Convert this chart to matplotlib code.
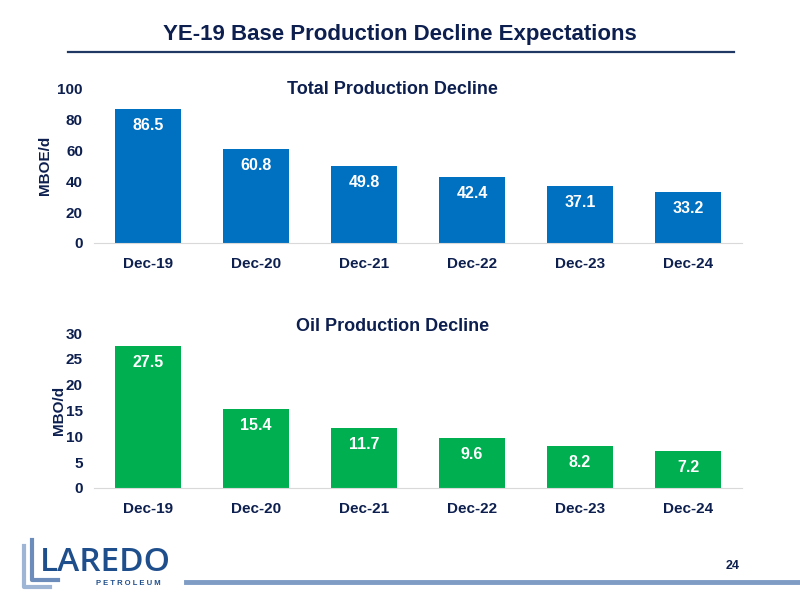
import matplotlib
matplotlib.use("Agg")
import matplotlib.pyplot as plt
from matplotlib.lines import Line2D
from matplotlib.transforms import offset_copy

plt.rcParams['font.family'] = ['Liberation Sans', 'DejaVu Sans']
plt.rcParams['font.weight'] = 'bold'

NAVY = '#0d1f4f'
BLUE = '#0070c0'
GREEN = '#00b050'

periods = ['Dec-19', 'Dec-20', 'Dec-21', 'Dec-22', 'Dec-23', 'Dec-24']
total_mboe = [86.5, 60.8, 49.8, 42.4, 37.1, 33.2]
oil_mbo = [27.5, 15.4, 11.7, 9.6, 8.2, 7.2]


def draw_panel(fig, ax, values, color, title, ylabel, ymax, step, title_dy, ylab_pad):
    x = range(len(periods))
    ax.bar(x, values, width=0.62, color=color, zorder=2)
    # value labels sit ~9px under the top of each bar
    lab_tr = offset_copy(ax.transData, fig=fig, x=0, y=-9, units='dots')
    for i, v in enumerate(values):
        ax.text(i, v, f"{v:.1f}", ha='center', va='top', transform=lab_tr,
                color='white', fontsize=11.5, fontweight='bold', zorder=3)
    ax.set_xlim(-0.5, len(periods) - 0.5)
    ax.set_ylim(0, ymax)
    ax.set_yticks(range(0, ymax + 1, step))
    ax.set_xticks(list(x))
    ax.set_xticklabels(periods)
    for s in ['top', 'right', 'left']:
        ax.spines[s].set_visible(False)
    ax.spines['bottom'].set_color('#d9d9d9')
    ax.tick_params(axis='both', length=0, labelsize=11, colors=NAVY)
    ax.tick_params(axis='x', pad=10)
    ax.tick_params(axis='y', pad=8)
    ax.set_ylabel(ylabel, color=NAVY, fontsize=11, fontweight='bold', labelpad=ylab_pad)
    t_tr = offset_copy(ax.transAxes, fig=fig, x=0, y=title_dy, units='dots')
    ax.text(0.46, 1.0, title, ha='center', va='center', transform=t_tr,
            color=NAVY, fontsize=13, fontweight='bold')


fig = plt.figure(figsize=(8, 6), dpi=100)

ax1 = fig.add_axes([0.1175, 0.595, 0.81, 0.258])
draw_panel(fig, ax1, total_mboe, BLUE, 'Total Production Decline', 'MBOE/d', 100, 20, -1, 4)

ax2 = fig.add_axes([0.1175, 0.1867, 0.81, 0.258])
draw_panel(fig, ax2, oil_mbo, GREEN, 'Oil Production Decline', 'MBO/d', 30, 5, 7, 0)

# slide header
fig.text(0.5, 0.942, 'YE-19 Base Production Decline Expectations', ha='center', va='center',
         color=NAVY, fontsize=16, fontweight='bold')
fig.add_artist(Line2D([0.085, 0.917], [0.913, 0.913], color='#1f3864', lw=1.6))

# footer: logo, page number, rule
fig.text(0.05, 0.063, 'LAREDO', ha='left', va='center', color='#1f4e8c',
         fontsize=24, fontweight='semibold', family=['Open Sans', 'DejaVu Sans'])
fig.text(0.12, 0.027, 'P E T R O L E U M', ha='left', va='center', color='#1f4e8c',
         fontsize=5.5, fontweight='bold')
fig.add_artist(Line2D([0.03, 0.03, 0.062], [0.09, 0.022, 0.022], color='#9fb5d6', lw=3))
fig.add_artist(Line2D([0.04, 0.04, 0.072], [0.10, 0.034, 0.034], color='#6c8dbb', lw=3))
fig.add_artist(Line2D([0.232, 1.0], [0.03, 0.03], color='#7f9cc4', lw=3.5))
fig.text(0.916, 0.057, '24', ha='center', va='center', color=NAVY, fontsize=9, fontweight='bold')

fig.savefig('out.png', dpi=100)
